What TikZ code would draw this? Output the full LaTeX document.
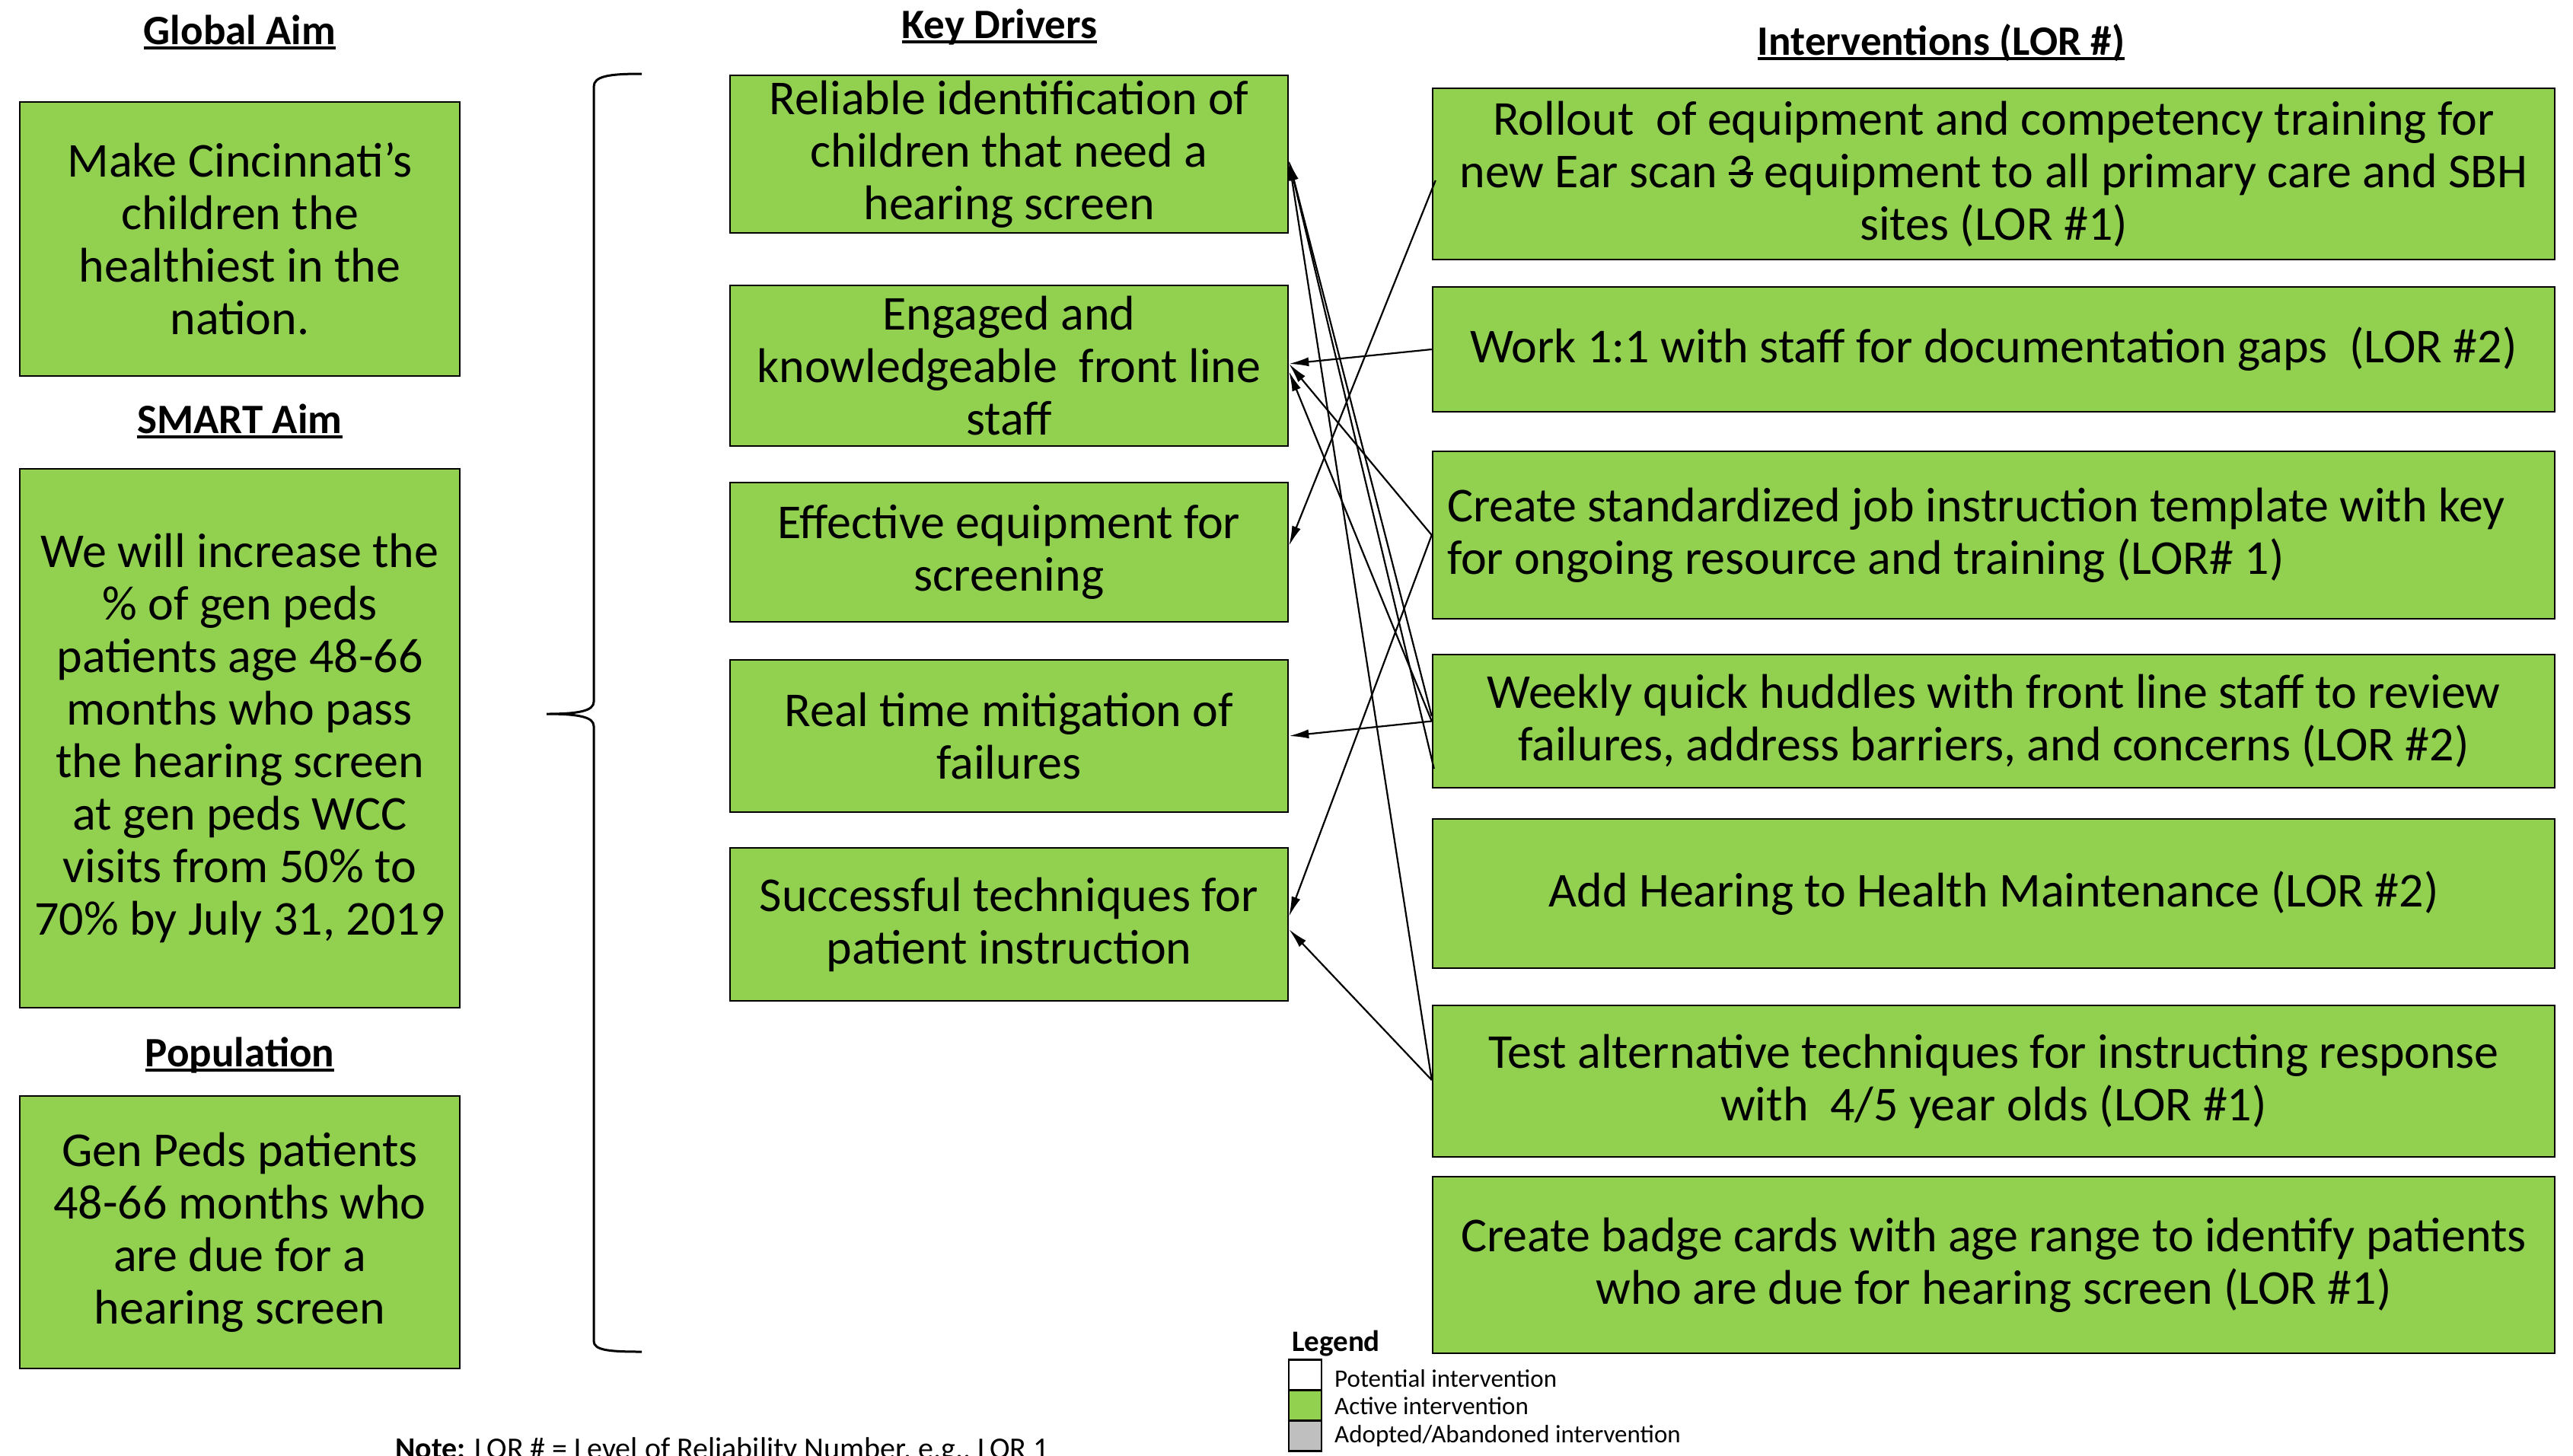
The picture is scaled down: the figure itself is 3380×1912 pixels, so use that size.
\documentclass[tikz,border=0pt]{standalone}
\usepackage{fontspec}
\setmainfont{Carlito}
\usetikzlibrary{arrows.meta}
\definecolor{boxgreen}{HTML}{92D050}
\definecolor{legendgrey}{HTML}{BFBFBF}
\newcommand\hdrul[1]{\setbox0\hbox{#1}\rlap{\rule[-0.13em]{\wd0}{0.07em}}\box0\relax}
\newcommand\strk[1]{\setbox0\hbox{#1}\rlap{\rule[0.26em]{\wd0}{0.06em}}\box0\relax}
\tikzset{
  box/.style={draw=black, line width=2.5pt, fill=boxgreen, inner sep=0pt, align=center, font=\fontsize{64}{69}\selectfont},
  hdr/.style={font=\fontsize{55}{66}\selectfont\bfseries, inner sep=0pt, anchor=base},
  conn/.style={line width=2.2pt, -{Latex[length=26pt,width=12pt]}},
  legsq/.style={draw=black, line width=2.5pt, minimum width=43pt, minimum height=40pt, inner sep=0pt},
  legtxt/.style={font=\fontsize{33}{38}\selectfont, anchor=base west, inner sep=0pt}
}
\begin{document}
\begin{tikzpicture}[x=1pt,y=-1pt]
\useasboundingbox (0,0) rectangle (3380,1912);
% headers
\node[hdr] (hga) at (315,58) {\hdrul{Global Aim}};
\node[hdr] (hsa) at (315,569) {\hdrul{SMART Aim}};
\node[hdr] (hpop) at (315,1401) {\hdrul{Population}};
\node[hdr] (hkd) at (1313,50) {\hdrul{Key Drivers}};
\node[hdr] (hint) at (2550,72) {\hdrul{Interventions (LOR \#)}};
% left boxes
\node[box, minimum width=578pt, minimum height=360pt] (ga) at (315,314) {Make Cincinnati’s\\children the\\healthiest in the\\nation.};
\node[box, minimum width=578pt, minimum height=708pt] (sa) at (315,970) {We will increase the\\\% of gen peds\\patients age 48-66\\months who pass\\the hearing screen\\at gen peds WCC\\visits from 50\% to\\70\% by July 31, 2019};
\node[box, minimum width=578pt, minimum height=358pt] (pop) at (315,1619) {Gen Peds patients\\48-66 months who\\are due for a\\hearing screen};
% brace
\draw[line width=3pt] (843,97) .. controls (800,97) and (780,100) .. (780,114) -- (780,922) .. controls (780,934) and (760,938) .. (718,938) .. controls (760,938) and (780,942) .. (780,954) -- (780,1762) .. controls (780,1774) and (800,1776) .. (843,1776);
% key drivers
\node[box, minimum width=733pt, minimum height=207pt] (kd1) at (1325.5,202.5) {Reliable identification of\\children that need a\\hearing screen};
\node[box, minimum width=733pt, minimum height=211pt] (kd2) at (1325.5,480.5) {Engaged and\\knowledgeable\ \ front line\\staff};
\node[box, minimum width=733pt, minimum height=183pt] (kd3) at (1325.5,725.5) {Effective equipment for\\screening};
\node[box, minimum width=733pt, minimum height=200pt] (kd4) at (1325.5,967) {Real time mitigation of\\failures};
\node[box, minimum width=733pt, minimum height=201pt] (kd5) at (1325.5,1214.5) {Successful techniques for\\patient instruction};
% interventions
\node[box, minimum width=1474pt, minimum height=225pt] (i1) at (2619,228.5) {Rollout\ \ of equipment and competency training for\\new Ear scan \strk{3} equipment to all primary care and SBH\\sites (LOR \#1)};
\node[box, minimum width=1474pt, minimum height=164pt] (i2) at (2619,459) {Work 1:1 with staff for documentation gaps\ \ (LOR \#2)};
\node[box, minimum width=1474pt, minimum height=220pt, text width=1436pt, inner xsep=19pt, align=left] (i3) at (2619,703) {\spaceskip=0pt\xspaceskip=0pt Create standardized job instruction template with key\\for ongoing resource and training (LOR\# 1)};
\node[box, minimum width=1474pt, minimum height=175pt] (i4) at (2619,947.5) {Weekly quick huddles with front line staff to review\\failures, address barriers, and concerns (LOR \#2)};
\node[box, minimum width=1474pt, minimum height=196pt] (i5) at (2619,1174) {Add Hearing to Health Maintenance (LOR \#2)};
\node[box, minimum width=1474pt, minimum height=199pt] (i6) at (2619,1420.5) {Test alternative techniques for instructing response\\with\ \ 4/5 year olds (LOR \#1)};
\node[box, minimum width=1474pt, minimum height=232pt] (i7) at (2619,1662) {Create badge cards with age range to identify patients\\who are due for hearing screen (LOR \#1)};
% connectors
\draw[conn] ([xshift=5pt,yshift=-8.5pt]i1.west) -- ([yshift=8.5pt]kd3.east);
\draw[conn] (i2.west) -- ([yshift=2.5pt]kd2.east);
\draw[conn] (i3.west) -- ([yshift=2.5pt]kd2.east);
\draw[conn] (i3.west) -- ([yshift=10.5pt]kd5.east);
\draw[conn] ([yshift=6.5pt]i4.west) -- ([yshift=-8.5pt]kd1.east);
\draw[conn] ([xshift=3pt,yshift=-62.5pt]i4.west) -- ([yshift=-8.5pt]kd1.east);
\draw[conn] (i4.west) -- ([yshift=-7.5pt]kd2.east);
\draw[conn] (i4.west) -- (kd4.east);
\draw[conn] ([yshift=1.5pt]i6.west) -- ([yshift=-8.5pt]kd1.east);
\draw[conn] ([yshift=1.5pt]i6.west) -- ([yshift=-6.5pt]kd5.east);
% legend
\node[font=\fontsize{39}{44}\selectfont\bfseries, anchor=base west, inner sep=0pt] (leg) at (1697,1775) {Legend};
\node[legsq, fill=white] (sqp) at (1714.5,1806.5) {};
\node[legsq, fill=boxgreen] (sqa) at (1714.5,1846.5) {};
\node[legsq, fill=legendgrey] (sqd) at (1714.5,1886.5) {};
\node[legtxt] (ltp) at (1753,1822) {Potential intervention};
\node[legtxt] (lta) at (1753,1858) {Active intervention};
\node[legtxt] (ltd) at (1753,1895) {Adopted/Abandoned intervention};
% note
\node[anchor=base west, inner sep=0pt, font=\fontsize{40}{46}\selectfont] (note) at (519,1916) {\textbf{Note:} LOR \# = Level of Reliability Number, e.g., LOR 1};
\end{tikzpicture}
\end{document}
